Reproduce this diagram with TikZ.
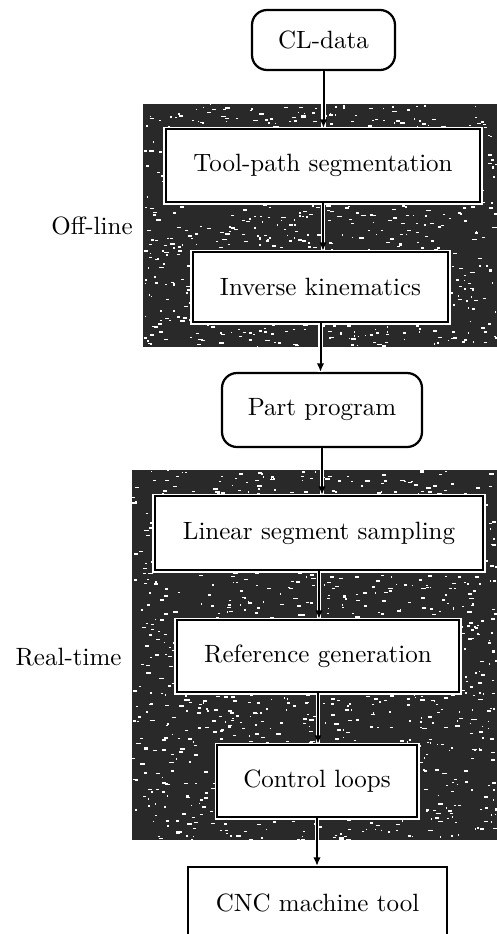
\documentclass[tikz,border=0pt]{standalone}
\usetikzlibrary{arrows.meta,backgrounds}
\begin{document}
\begin{tikzpicture}[x=0.4pt,y=-0.4pt,
  every node/.style={font=\fontsize{10}{12}\selectfont},
  stage/.style={draw, fill=white, line width=0.9pt, inner sep=0pt,
    preaction={draw=white, line width=2pt}},
  term/.style={stage, rounded corners=6pt},
  flow/.style={line width=0.8pt, -{Latex[length=3.4pt,width=3pt]},
    preaction={draw=white, line width=1.8pt, -}},
  band/.style={fill=black!84},
  speck/.style={fill=white}]
\useasboundingbox (0,0) rectangle (496,934);
\clip (0,0) rectangle (496,934);

% process stages
\node[term]  (cl)   at (323.5,40)  [minimum width=57.2pt, minimum height=24pt]   {CL-data};
\node[stage] (seg)  at (323,165.5) [minimum width=125.6pt, minimum height=29.2pt] {Tool-path segmentation};
\node[stage] (inv)  at (320.5,287) [minimum width=102pt, minimum height=28pt]     {Inverse kinematics};
\node[term]  (part) at (322,410)   [minimum width=80pt, minimum height=29.6pt]    {Part program};
\node[stage] (lin)  at (319,533)   [minimum width=131.2pt, minimum height=29.6pt] {Linear segment sampling};
\node[stage] (ref)  at (318,656)   [minimum width=112.8pt, minimum height=28.8pt] {Reference generation};
\node[stage] (ctl)  at (317,781)   [minimum width=80pt, minimum height=28.8pt]    {Control loops};
\node[stage] (cnc)  at (317.5,903) [minimum width=103.6pt, minimum height=28.8pt] {CNC machine tool};

% phase labels
\node (offline)  at (92,226)  {Off-line};
\node (realtime) at (68.5,657) {Real-time};

% shaded phase bands with a grainy texture
\begin{scope}[on background layer]
  \fill[band] (143,104) rectangle (500,347);
  \fill[band] (132,470) rectangle (500,840);
  \pgfmathsetseed{7}
  \foreach \i in {1,...,900}{
    \pgfmathsetmacro\sx{143+rnd*353}
    \pgfmathsetmacro\sy{104+rnd*243}
    \pgfmathsetmacro\sw{0.8+rnd*4}
    \pgfmathsetmacro\sh{0.8+rnd*1.4}
    \fill[speck] (\sx,\sy) rectangle ++(\sw,\sh);
  }
  \foreach \i in {1,...,1350}{
    \pgfmathsetmacro\sx{132+rnd*364}
    \pgfmathsetmacro\sy{470+rnd*370}
    \pgfmathsetmacro\sw{0.8+rnd*4}
    \pgfmathsetmacro\sh{0.8+rnd*1.4}
    \fill[speck] (\sx,\sy) rectangle ++(\sw,\sh);
  }
\end{scope}

% data flow
\draw[flow] (cl.south)   -- (cl.south |- seg.north);
\draw[flow] (seg.south)  -- (seg.south |- inv.north);
\draw[flow] (inv.south)  -- (inv.south |- part.north);
\draw[flow] (part.south) -- (part.south |- lin.north);
\draw[flow] (lin.south)  -- (lin.south |- ref.north);
\draw[flow] (ref.south)  -- (ref.south |- ctl.north);
\draw[flow] (ctl.south)  -- (ctl.south |- cnc.north);
\end{tikzpicture}
\end{document}
